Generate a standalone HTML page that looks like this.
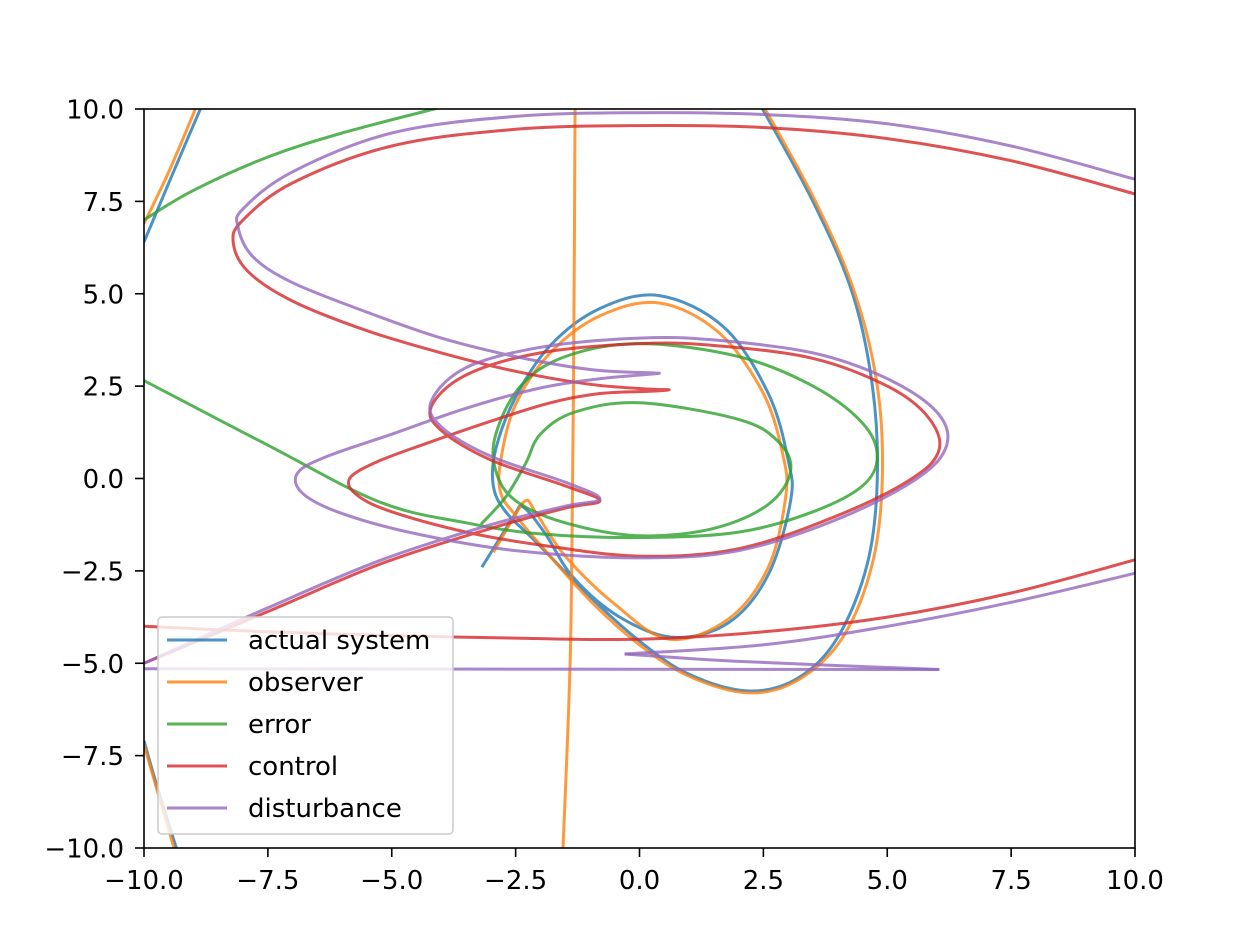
<!DOCTYPE html>
<html><head><meta charset="utf-8"><style>
body{margin:0;background:#fff}
svg{display:block;font-family:"DejaVu Sans","Liberation Sans",sans-serif}
</style></head><body>
<svg id="chart" width="1240" height="940" viewBox="0 0 1240 940" xmlns="http://www.w3.org/2000/svg">
<rect width="1240" height="940" fill="#fff"/>
<defs><clipPath id="pc"><rect x="144" y="109" width="991" height="739"/></clipPath></defs>
<g id="series" clip-path="url(#pc)"></g>
<rect x="144" y="109" width="991" height="739" fill="none" stroke="#000" stroke-width="1.6"/>
<g id="axes"></g>
<g id="legend"></g>
</svg>
<script>
const xTicks=[-10,-7.5,-5,-2.5,0,2.5,5,7.5,10];
const yTicks=[-10,-7.5,-5,-2.5,0,2.5,5,7.5,10];
const blueMain=[[-3.18,-2.4],[-2.55,-1.05],[-2.35,-0.77],[-1.9,-1.5],[-1.34,-2.67],[-0.4,-3.75],[0.7,-4.3],[1.8,-3.9],[2.6,-2.6],[3.05,-0.6],[3.0,0.5],[2.6,2.3],[1.7,4.1],[0.4,4.95],[-0.8,4.6],[-1.8,3.6],[-2.5,2.2],[-2.9,0.8],[-2.95,-0.2],[-2.7,-0.9],[-2.1,-1.7],[-1.0,-3.2],[0,-4.4],[1,-5.3],[2.2,-5.75],[3.2,-5.4],[4.0,-4.3],[4.6,-2.3],[4.8,0],[4.7,2.5],[4.3,5.0],[3.5,7.5],[2.4,10.2]];
const blueTop=[[-10,6.4],[-9.5,8.0],[-8.8,10.2]];
const blueBottom=[[-10,-7.1],[-9.7,-8.5],[-9.3,-10.2]];
const orangeMain=[[-2.95,-2.0],[-2.6,-1.2],[-2.3,-0.6],[-2.1,-0.9],[-1.5,-2.1],[-0.5,-3.4],[0.6,-4.35],[1.8,-3.8],[2.6,-2.4],[2.95,-0.5],[2.9,0.6],[2.5,2.3],[1.6,3.95],[0.4,4.75],[-0.8,4.4],[-1.8,3.4],[-2.5,2.0],[-2.8,0.5],[-2.8,-0.4],[-2.5,-1.0],[-2.0,-1.8],[-1.0,-3.3],[0,-4.5],[1,-5.35],[2.2,-5.8],[3.2,-5.45],[4.1,-4.3],[4.7,-2.3],[4.9,0],[4.8,2.5],[4.35,5.0],[3.55,7.5],[2.45,10.2]];
const orangeVertical=[[-1.3,10.2],[-1.32,5],[-1.35,0],[-1.4,-5],[-1.55,-10.2]];
const orangeTop=[[-10,6.9],[-9.5,8.3],[-8.9,10.2]];
const orangeBottom=[[-10,-7.2],[-9.7,-8.6],[-9.35,-10.2]];
const greenTop=[[-10,7.0],[-9,7.8],[-7.5,8.7],[-6,9.35],[-4,10.05]];
const greenMain=[[-10,2.65],[-7.5,0.9],[-5.24,-0.64],[-3.5,-1.2],[-2,-1.5],[0,-1.6],[2,-1.45],[3.5,-0.9],[4.5,-0.2],[4.8,0.6],[4.5,1.5],[3.5,2.5],[2,3.3],[0,3.65],[-1.5,3.3],[-2.4,2.5],[-2.9,1.2],[-2.9,0.2],[-2.5,-0.6],[-1.5,-1.2],[0,-1.55],[1.5,-1.35],[2.6,-0.7],[3.05,0.2],[2.8,1.0],[2,1.6],[0,2.05],[-1.3,1.8],[-2.0,1.2],[-2.3,0.4],[-2.7,-0.5],[-3.2,-1.24]];
const redMain=[[10,7.7],[7.5,8.6],[5,9.2],[2.5,9.5],[0,9.55],[-2.5,9.45],[-5,9.0],[-7,8.0],[-8.0,7.0],[-8.2,6.4],[-7.9,5.6],[-7,4.8],[-5.5,4.0],[-4,3.4],[-2.5,2.9],[-1,2.55],[0.2,2.42],[0.6,2.4],[0.2,2.36],[-0.8,2.3],[-1.8,2.05],[-3,1.55],[-4.3,0.95],[-5.3,0.45],[-5.85,0],[-5.7,-0.45],[-5,-0.9],[-3.5,-1.45],[-2,-1.8],[0,-2.1],[2,-1.9],[4,-1.0],[5.5,0],[6.05,0.8],[5.8,1.7],[5,2.5],[3.5,3.25],[1.5,3.6],[0,3.65],[-2,3.4],[-3.5,2.8],[-4.2,1.95],[-4,1.3],[-3,0.5],[-1.5,-0.2],[-0.8,-0.6],[-1.5,-0.8],[-3,-1.35],[-5.2,-2.3],[-7.5,-3.6],[-10,-5.0]];
const redBottom=[[-10,-4.0],[-7.5,-4.15],[-5,-4.25],[-2.5,-4.32],[0,-4.35],[2.5,-4.15],[5,-3.75],[7.5,-3.1],[10,-2.2]];
const purpleMain=[[10,8.1],[7.5,9.0],[5,9.6],[2.5,9.85],[0,9.9],[-2.5,9.8],[-5,9.35],[-7,8.3],[-8.0,7.3],[-8.1,6.8],[-7.8,6.0],[-7,5.3],[-5.5,4.5],[-4,3.8],[-2.5,3.3],[-1,2.95],[0.2,2.86],[0.4,2.85],[0.2,2.82],[-0.8,2.7],[-2,2.45],[-3.5,1.9],[-5,1.2],[-6.3,0.6],[-6.9,0.15],[-6.8,-0.4],[-6,-0.95],[-4.5,-1.5],[-2.5,-1.95],[0,-2.15],[2,-1.95],[4,-1.1],[5.6,0],[6.2,0.9],[6.0,1.8],[5,2.7],[3.5,3.4],[1.5,3.75],[0,3.8],[-2,3.55],[-3.5,3.0],[-4.2,2.1],[-4.0,1.4],[-3,0.6],[-1.5,-0.1],[-0.8,-0.55],[-1.5,-0.75],[-3,-1.25],[-5.2,-2.2],[-7.5,-3.5],[-10,-5.0]];
const purpleBottomA=[[-10.2,-5.15],[6.05,-5.17]];
const purpleBottomB=[[6.05,-5.17],[2,-4.95],[-0.3,-4.75]];
const purpleBottomC=[[-0.3,-4.75],[2.5,-4.5],[5,-4.0],[7.5,-3.35],[10.2,-2.5]];
const legendLabels=["actual system","observer","error","control","disturbance"];
const colors=["#1f77b4","#ff7f0e","#2ca02c","#d62728","#9467bd"];
const seriesSets=[[blueMain,blueTop,blueBottom],[orangeMain,orangeVertical,orangeTop,orangeBottom],[greenTop,greenMain],[redMain,redBottom],[purpleMain,purpleBottomA,purpleBottomB,purpleBottomC]];

const NS="http://www.w3.org/2000/svg";
const X=v=>144+(v+10)/20*991;
const Y=v=>848-(v+10)/20*739;
function smoothPath(pts){
  const P=pts.map(q=>[X(q[0]),Y(q[1])]);
  let d='M'+P[0][0].toFixed(1)+','+P[0][1].toFixed(1);
  for(let i=0;i<P.length-1;i++){
    const p0=P[i-1]||P[i],p1=P[i],p2=P[i+1],p3=P[i+2]||P[i+1];
    const t=0.17;
    const c1=[p1[0]+(p2[0]-p0[0])*t,p1[1]+(p2[1]-p0[1])*t];
    const c2=[p2[0]-(p3[0]-p1[0])*t,p2[1]-(p3[1]-p1[1])*t];
    d+='C'+c1.map(v=>v.toFixed(1)).join(',')+' '+c2.map(v=>v.toFixed(1)).join(',')+' '+p2[0].toFixed(1)+','+p2[1].toFixed(1);
  }
  return d;
}
const g=document.getElementById('series');
seriesSets.forEach((sets,i)=>{
  sets.forEach((pts,j)=>{
    const p=document.createElementNS(NS,'path');
    
    
    p.setAttribute('d',smoothPath(pts));
    p.setAttribute('fill','none');p.setAttribute('stroke',colors[i]);
    p.setAttribute('stroke-opacity','0.8');p.setAttribute('stroke-width','3');
    p.setAttribute('stroke-linejoin','round');
    g.appendChild(p);
  });
});
const ax=document.getElementById('axes');
const fmt=v=>(v<0?'\u2212':'')+Math.abs(v).toFixed(1);
xTicks.forEach(v=>{
  const l=document.createElementNS(NS,'line');
  
  
  l.setAttribute('x1',X(v));l.setAttribute('x2',X(v));l.setAttribute('y1',848);l.setAttribute('y2',857);l.setAttribute('stroke','#000');l.setAttribute('stroke-width','1.6');
  ax.appendChild(l);
  const t=document.createElementNS(NS,'text');
  
  
  t.setAttribute('x',X(v));t.setAttribute('y',889);t.setAttribute('text-anchor','middle');t.setAttribute('font-size','26');
  t.textContent=fmt(v);ax.appendChild(t);
});
yTicks.forEach(v=>{
  const l=document.createElementNS(NS,'line');
  
  
  l.setAttribute('x1',135);l.setAttribute('x2',144);l.setAttribute('y1',Y(v));l.setAttribute('y2',Y(v));l.setAttribute('stroke','#000');l.setAttribute('stroke-width','1.6');
  ax.appendChild(l);
  const t=document.createElementNS(NS,'text');
  
  
  t.setAttribute('x',124);t.setAttribute('y',Y(v)+9.5);t.setAttribute('text-anchor','end');t.setAttribute('font-size','26');
  t.textContent=fmt(v);ax.appendChild(t);
});
const lg=document.getElementById('legend');
const box=document.createElementNS(NS,'rect');


box.setAttribute('x',158);box.setAttribute('y',617);box.setAttribute('width',295);box.setAttribute('height',217);box.setAttribute('rx',4);
box.setAttribute('fill','#fff');box.setAttribute('fill-opacity','0.8');box.setAttribute('stroke','#ccc');box.setAttribute('stroke-width','1.5');
lg.appendChild(box);
legendLabels.forEach((s,i)=>{
  const y=640+i*42;
  const l=document.createElementNS(NS,'line');
  
  
  l.setAttribute('x1',167);l.setAttribute('x2',227);l.setAttribute('y1',y);l.setAttribute('y2',y);
  l.setAttribute('stroke',colors[i]);l.setAttribute('stroke-opacity','0.8');l.setAttribute('stroke-width','3');
  lg.appendChild(l);
  const t=document.createElementNS(NS,'text');
  
  
  t.setAttribute('x',248);t.setAttribute('y',y+9);t.setAttribute('font-size','26');
  t.textContent=s;lg.appendChild(t);
});
</script>
</body></html>
